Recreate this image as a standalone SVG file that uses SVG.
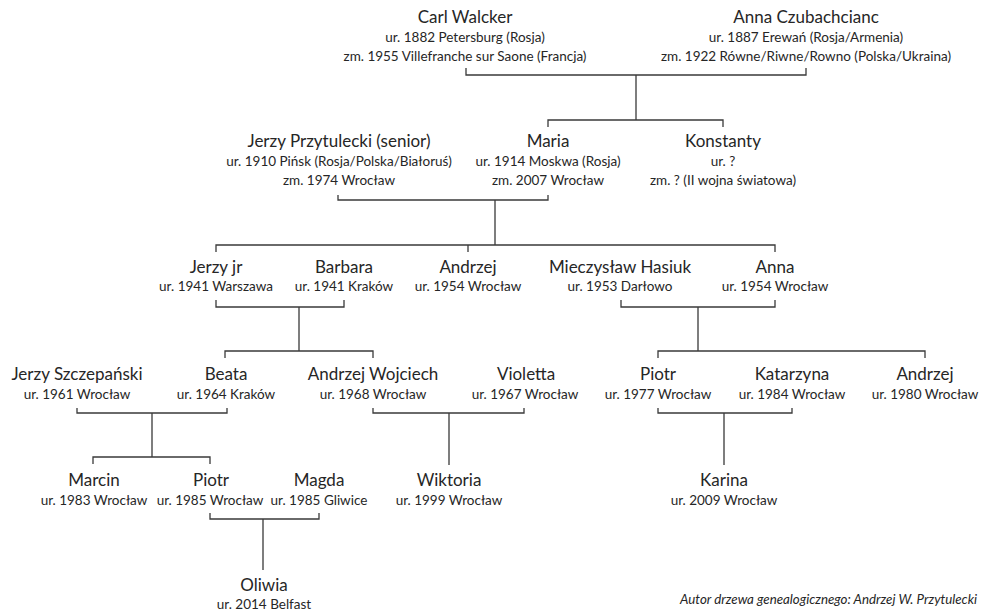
<svg xmlns="http://www.w3.org/2000/svg" width="983" height="612" viewBox="0 0 983 612">
<style>
text{font-family:Lato,"Open Sans","Noto Sans",sans-serif;fill:#262626;text-anchor:middle}
.n{font-size:17px}
.d{font-size:13.5px}
.f{font-size:13.3px;font-style:italic;text-anchor:end}
#connectors path{fill:none;stroke:#3a3a3a;stroke-width:1.3}
</style>
<rect width="983" height="612" fill="#ffffff"/>
<g id="connectors">
<path d="M466 68V75H806V68M636 75V120M548 127V120H723V127"/>
<path d="M338 195V200H548V195M495 200V245M216 252V245H775V252M468 245V252"/>
<path d="M216 300V307H344V300M299 307V351M225 358V351H373V358"/>
<path d="M621 300V307H775V300M698 307V351M658 358V351H925V358"/>
<path d="M77 408V413H227V408M152 413V457M93 464V457H210V464"/>
<path d="M373 408V413H524V408M449 413V465"/>
<path d="M658 408V413H792V408M724 413V465"/>
<path d="M210 513V519H319V513M263 519V570"/>
</g>
<g id="carl"><text class="n" x="465" y="23">Carl Walcker</text><text class="d" x="465" y="42">ur. 1882 Petersburg (Rosja)</text><text class="d" x="465" y="61">zm. 1955 Villefranche sur Saone (Francja)</text></g>
<g id="anna-cz"><text class="n" x="806" y="23">Anna Czubachcianc</text><text class="d" x="806" y="42">ur. 1887 Erewań (Rosja/Armenia)</text><text class="d" x="806" y="61">zm. 1922 Równe/Riwne/Rowno (Polska/Ukraina)</text></g>
<g id="jerzy-senior"><text class="n" x="339" y="147">Jerzy Przytulecki (senior)</text><text class="d" x="339" y="166">ur. 1910 Pińsk (Rosja/Polska/Białoruś)</text><text class="d" x="339" y="185">zm. 1974 Wrocław</text></g>
<g id="maria"><text class="n" x="548" y="147">Maria</text><text class="d" x="548" y="166">ur. 1914 Moskwa (Rosja)</text><text class="d" x="548" y="185">zm. 2007 Wrocław</text></g>
<g id="konstanty"><text class="n" x="723" y="147">Konstanty</text><text class="d" x="723" y="166">ur. ?</text><text class="d" x="723" y="185">zm. ? (II wojna światowa)</text></g>
<g id="jerzy-jr"><text class="n" x="216" y="273">Jerzy jr</text><text class="d" x="216" y="291">ur. 1941 Warszawa</text></g>
<g id="barbara"><text class="n" x="344" y="273">Barbara</text><text class="d" x="344" y="291">ur. 1941 Kraków</text></g>
<g id="andrzej-1954"><text class="n" x="468" y="273">Andrzej</text><text class="d" x="468" y="291">ur. 1954 Wrocław</text></g>
<g id="mieczyslaw"><text class="n" x="620" y="273">Mieczysław Hasiuk</text><text class="d" x="620" y="291">ur. 1953 Darłowo</text></g>
<g id="anna"><text class="n" x="775" y="273">Anna</text><text class="d" x="775" y="291">ur. 1954 Wrocław</text></g>
<g id="jerzy-sz"><text class="n" x="77" y="380">Jerzy Szczepański</text><text class="d" x="77" y="399">ur. 1961 Wrocław</text></g>
<g id="beata"><text class="n" x="226" y="380">Beata</text><text class="d" x="226" y="399">ur. 1964 Kraków</text></g>
<g id="andrzej-w"><text class="n" x="373" y="380">Andrzej Wojciech</text><text class="d" x="373" y="399">ur. 1968 Wrocław</text></g>
<g id="violetta"><text class="n" x="526" y="380">Violetta</text><text class="d" x="525" y="399">ur. 1967 Wrocław</text></g>
<g id="piotr-1977"><text class="n" x="658" y="380">Piotr</text><text class="d" x="658" y="399">ur. 1977 Wrocław</text></g>
<g id="katarzyna"><text class="n" x="792" y="380">Katarzyna</text><text class="d" x="792" y="399">ur. 1984 Wrocław</text></g>
<g id="andrzej-1980"><text class="n" x="925" y="380">Andrzej</text><text class="d" x="925" y="399">ur. 1980 Wrocław</text></g>
<g id="marcin"><text class="n" x="94" y="486">Marcin</text><text class="d" x="94" y="505">ur. 1983 Wrocław</text></g>
<g id="piotr-1985"><text class="n" x="211" y="486">Piotr</text><text class="d" x="210" y="505">ur. 1985 Wrocław</text></g>
<g id="magda"><text class="n" x="319" y="486">Magda</text><text class="d" x="319" y="505">ur. 1985 Gliwice</text></g>
<g id="wiktoria"><text class="n" x="449" y="486">Wiktoria</text><text class="d" x="449" y="505">ur. 1999 Wrocław</text></g>
<g id="karina"><text class="n" x="724" y="486">Karina</text><text class="d" x="724" y="505">ur. 2009 Wrocław</text></g>
<g id="oliwia"><text class="n" x="264" y="591">Oliwia</text><text class="d" x="264" y="609">ur. 2014 Belfast</text></g>
<text class="f" x="977" y="604">Autor drzewa genealogicznego: Andrzej W. Przytulecki</text>
</svg>
